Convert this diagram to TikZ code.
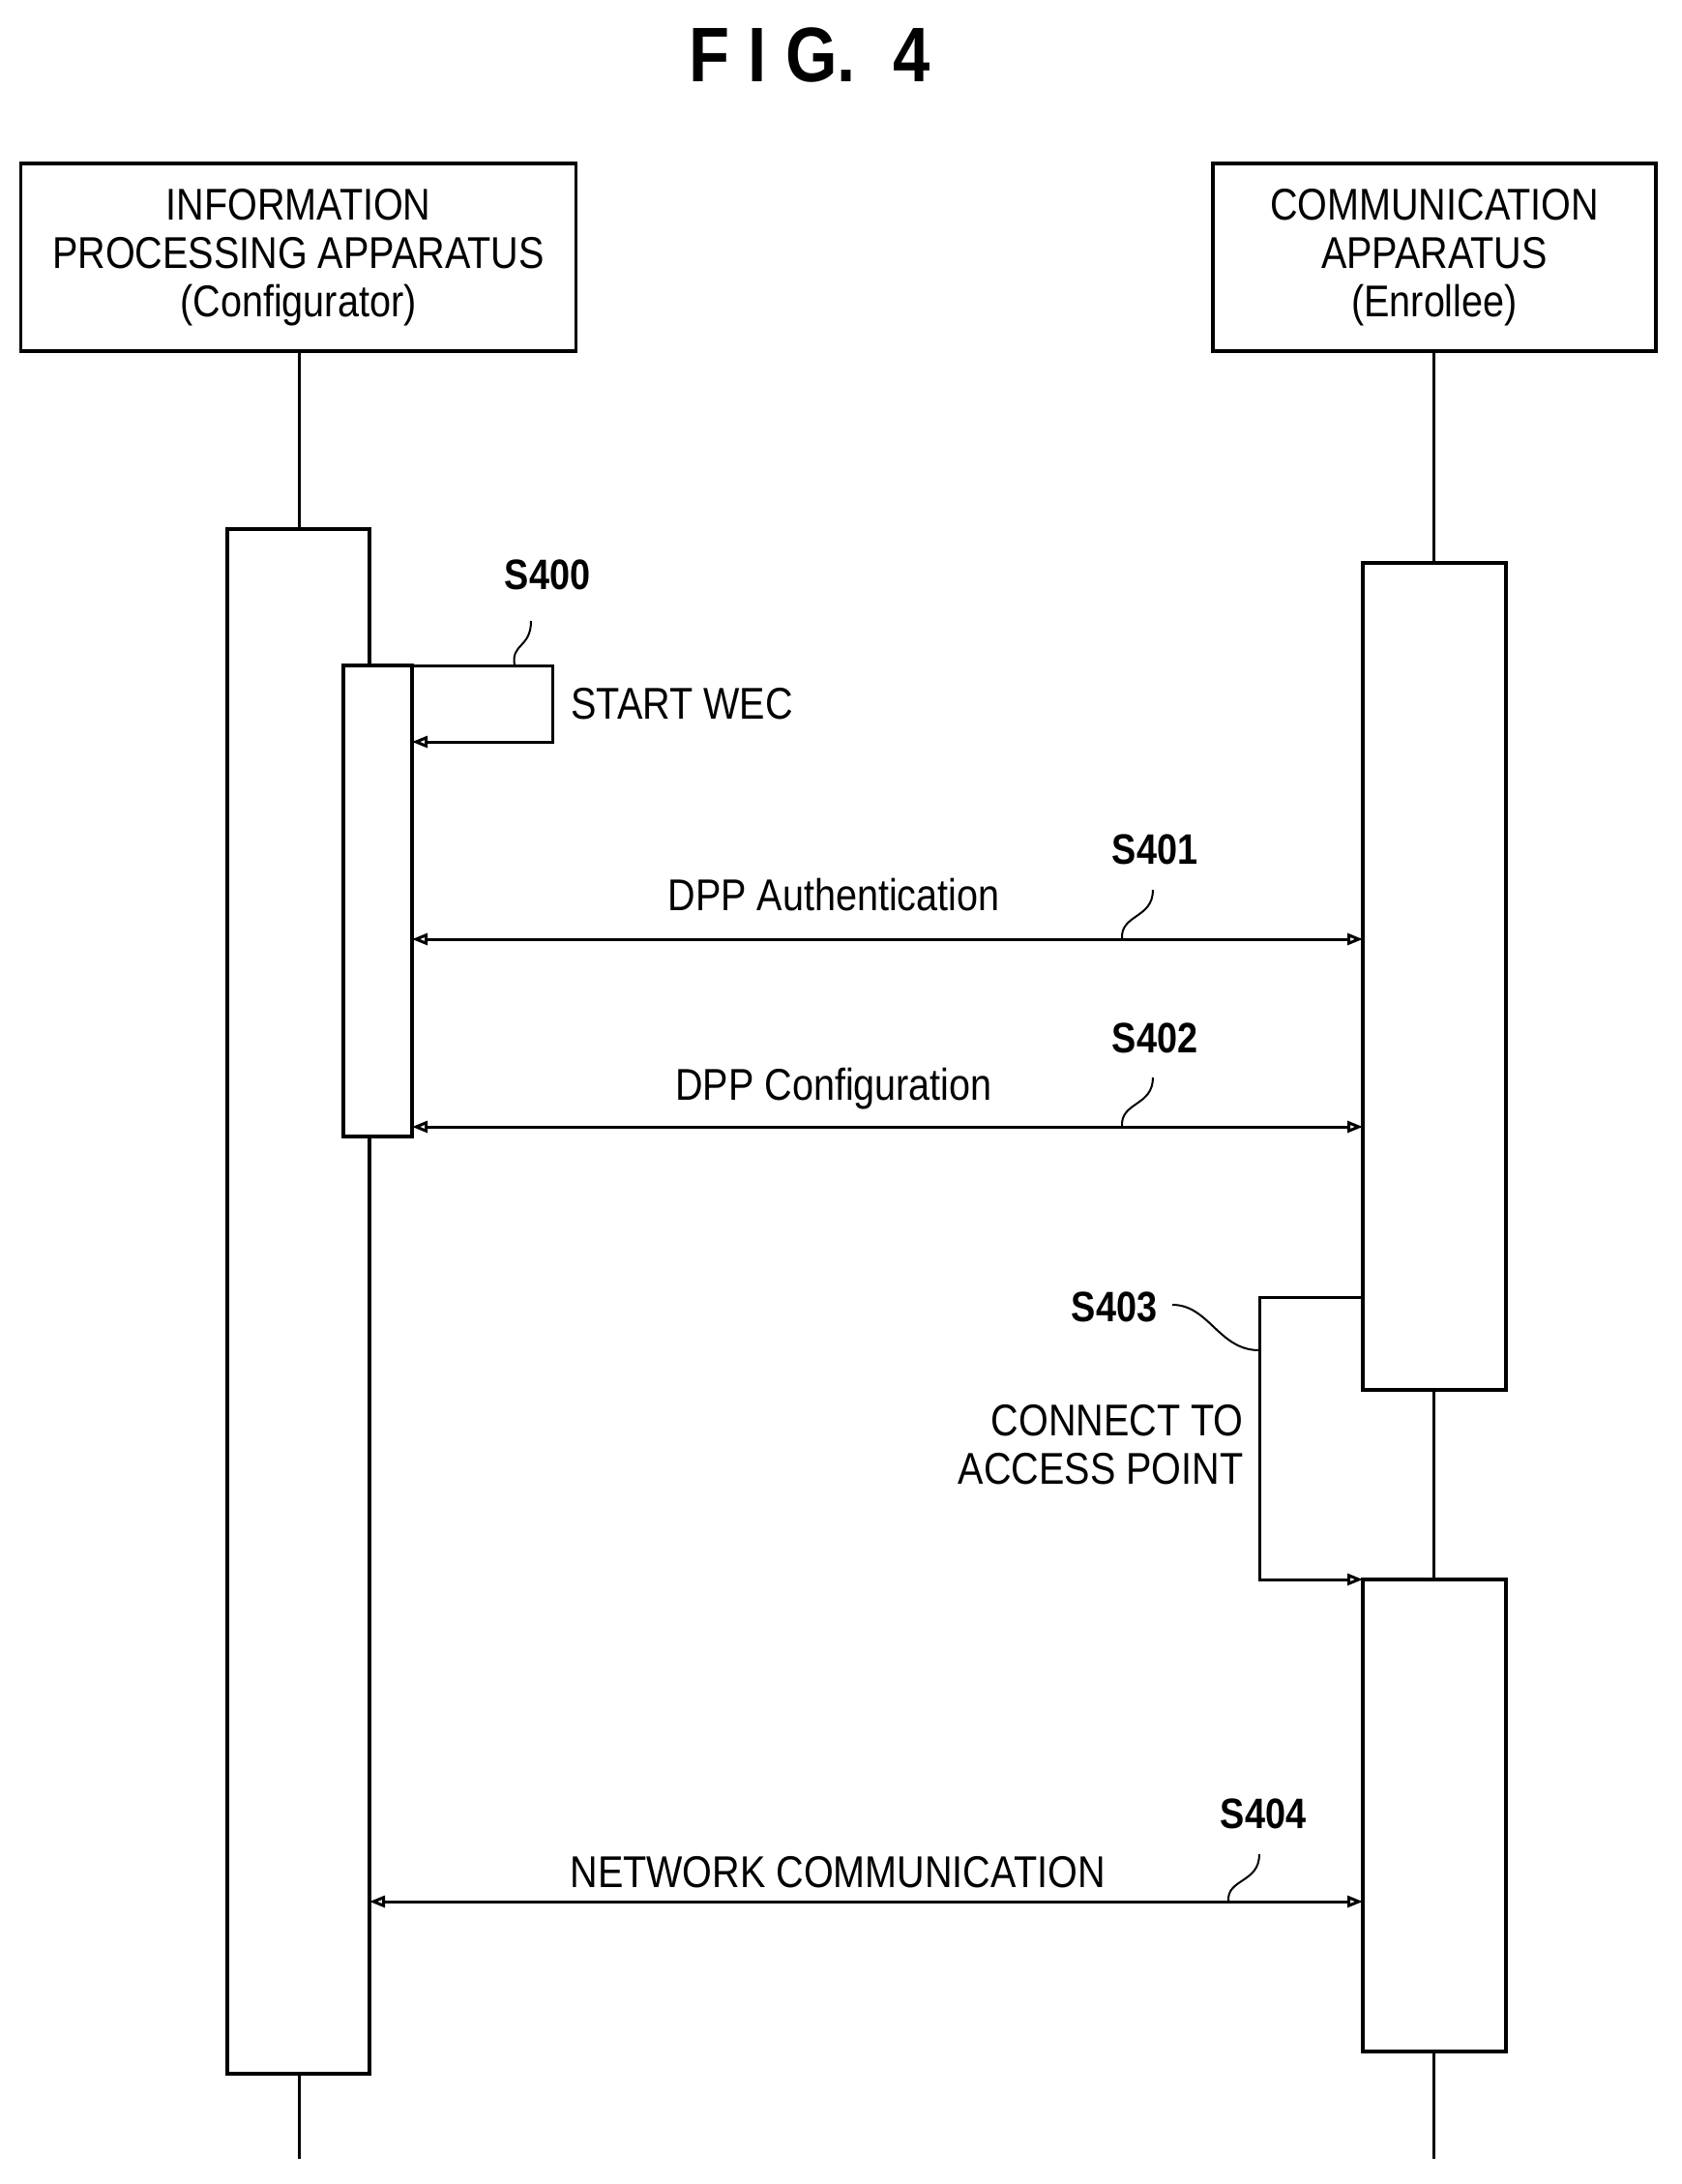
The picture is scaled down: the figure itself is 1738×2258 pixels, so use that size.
\documentclass[tikz,border=0pt]{standalone}
\usepackage{fontspec}
\setmainfont{Liberation Sans}[FakeStretch=0.86]
\usetikzlibrary{arrows.meta}
\begin{document}
\begin{tikzpicture}[x=1pt,y=-1pt,line width=3pt,
 txt/.style={font=\fontsize{46}{50}\selectfont,inner sep=0},
 lab/.style={font=\fontsize{44}{48}\selectfont\bfseries,inner sep=0},
 box/.style={draw,line width=3.5pt,fill=white},
 tip/.style={-{Triangle[open,length=16,width=12]}},
 dtip/.style={{Triangle[open,length=16,width=12]}-{Triangle[open,length=16,width=12]}},
 sq/.style={line width=2pt}]
\useasboundingbox (0,0) rectangle (1738,2258);
\node[font=\fontsize{80}{84}\selectfont\bfseries] (title) at (837,57) {F I G.\ \ 4};
% lifelines
\coordinate (lt) at (309,363); \coordinate (lb) at (309,2232);
\coordinate (rt) at (1482,363); \coordinate (rb) at (1482,2232);
\draw (lt) -- (lb); \draw (rt) -- (rb);
% headers
\node[box,minimum width=574,minimum height=194,align=center,txt] (A) at (308.5,266) {INFORMATION\\PROCESSING APPARATUS\\(Configurator)};
\node[box,minimum width=458,minimum height=194,align=center,txt] (B) at (1483,266) {COMMUNICATION\\APPARATUS\\(Enrollee)};
% activations
\draw[box] (235,547) rectangle (382,2144);
\draw[box] (355,688) rectangle (426,1175);
\draw[box] (1409,582) rectangle (1557,1437);
\draw[box] (1409,1633) rectangle (1557,2121);
% S400
\coordinate (p0) at (426,688); \coordinate (p1) at (571,688);
\coordinate (p2) at (571,767); \coordinate (p3) at (426,767);
\draw[tip] (p0) -- (p1) -- (p2) -- (p3);
\node[lab] (s400) at (566,594) {S400};
\draw[sq] (549,642) .. controls (549,670) and (528,665) .. (532,688);
\node[txt,anchor=west] (wec) at (589,728) {START WEC};
% S401
\coordinate (a1) at (426,971); \coordinate (a2) at (1409,971);
\draw[dtip] (a1) -- (a2);
\node[txt] (auth) at (862,925) {DPP Authentication};
\node[lab] (s401) at (1194,878) {S401};
\draw[sq] (1192,920) .. controls (1192,950) and (1158,945) .. (1160,971);
% S402
\coordinate (c1) at (426,1165); \coordinate (c2) at (1409,1165);
\draw[dtip] (c1) -- (c2);
\node[txt] (conf) at (862,1126) {DPP Configuration};
\node[lab] (s402) at (1194,1073) {S402};
\draw[sq] (1192,1114) .. controls (1192,1144) and (1158,1139) .. (1160,1165);
% S403
\coordinate (d0) at (1409,1341); \coordinate (d1) at (1302,1341);
\coordinate (d2) at (1302,1633); \coordinate (d3) at (1409,1633);
\draw[tip] (d0) -- (d1) -- (d2) -- (d3);
\node[lab] (s403) at (1152,1351) {S403};
\draw[sq] (1212,1349) .. controls (1250,1349) and (1260,1396) .. (1302,1396);
\node[txt,align=right,anchor=east] (ap) at (1287,1494) {CONNECT TO\\ACCESS POINT};
% S404
\coordinate (n1) at (382,1966); \coordinate (n2) at (1409,1966);
\draw[dtip] (n1) -- (n2);
\node[txt] (net) at (866,1936) {NETWORK COMMUNICATION};
\node[lab] (s404) at (1306,1875) {S404};
\draw[sq] (1302,1917) .. controls (1302,1947) and (1268,1942) .. (1270,1966);
\end{tikzpicture}
\end{document}
